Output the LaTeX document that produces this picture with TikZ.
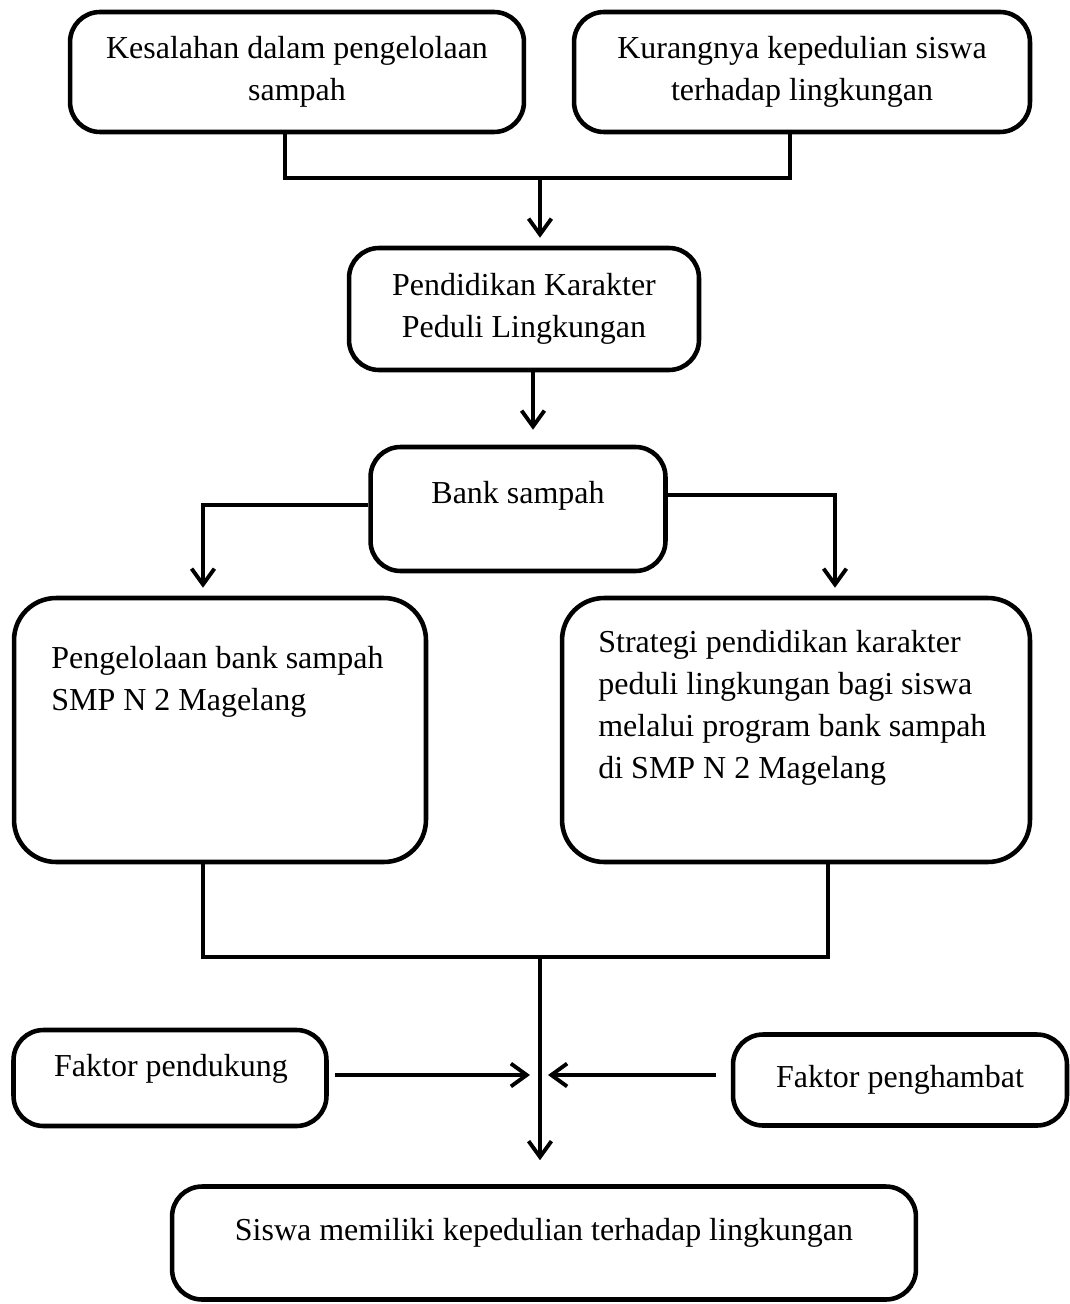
\documentclass[tikz,border=0pt]{standalone}
\usepackage{fontspec}
\setmainfont{Liberation Serif}
\usetikzlibrary{arrows.meta,positioning}
\tikzset{
	kotak/.style={draw, line width=2.6pt, rounded corners=0.6cm, inner sep=0pt, align=center, font=\fontsize{18.2}{23.9}\selectfont},
	kotakbesar/.style={kotak, rounded corners=0.84cm},
	teks/.style={inner sep=0pt, font=\fontsize{18.2}{23.9}\selectfont},
	garis/.style={line width=2.2pt},
	panah/.style={line width=2.2pt, -{Straight Barb[length=9pt,width=13pt,line width=2.2pt]}}
}

\begin{document}
\begin{tikzpicture}[x=0.02cm, y=-0.02cm]
			%%%%% START %%%%%
			\useasboundingbox (0,0) rectangle (1070,1304);
			
			\node[kotak, minimum width=9.08cm, minimum height=2.4cm] (kesalahan) at (297,72) {Kesalahan dalam pengelolaan\\sampah};
			\node[kotak, minimum width=9.12cm, minimum height=2.4cm] (kurang) at (802,72) {Kurangnya kepedulian siswa\\terhadap lingkungan};
			
			\coordinate (t1) at (540,178);
			\draw[garis] ([xshift=-0.24cm]kesalahan.south) |- (t1) -| ([xshift=-0.24cm]kurang.south);
			
			\node[kotak, minimum width=7cm, minimum height=2.44cm] (pendidikan) at (524,309) {Pendidikan Karakter\\Peduli Lingkungan};
			\draw[panah] (t1) -- ([yshift=0.16cm]t1 |- pendidikan.north);
			
			\node[kotak, minimum width=5.9cm, minimum height=2.48cm] (bank) at (518,509) {};
			\node[teks] (tbank) at (518,496) {Bank sampah};
			\draw[panah] ([xshift=0.18cm]pendidikan.south) -- ([xshift=0.18cm,yshift=0.3cm]pendidikan.south |- bank.north);
			
			\node[kotakbesar, minimum width=8.24cm, minimum height=5.28cm] (kelola) at (220,730) {};
			\node[teks, align=left, anchor=west] (tkelola) at (51,682) {Pengelolaan bank sampah\\SMP N 2 Magelang};
			
			\node[kotakbesar, minimum width=9.36cm, minimum height=5.28cm] (strategi) at (796,730) {};
			\node[teks, align=left, anchor=west] (tstrategi) at (598,708) {Strategi pendidikan karakter\\peduli lingkungan bagi siswa\\melalui program bank sampah\\di SMP N 2 Magelang};
			
			\draw[panah] ([yshift=0.08cm]bank.west) -| ([xshift=-0.34cm,yshift=0.16cm]kelola.north);
			\draw[panah] ([yshift=0.28cm]bank.east) -| ([xshift=0.78cm,yshift=0.16cm]strategi.north);
			
			\coordinate (t2) at (540,957);
			\draw[garis] ([xshift=-0.34cm]kelola.south) |- (t2) -| ([xshift=0.64cm]strategi.south);
			
			\node[kotak, minimum width=6.26cm, minimum height=1.92cm] (pendukung) at (170,1078) {};
			\node[teks] (tpendukung) at (171,1069) {Faktor pendukung};
			\node[kotak, minimum width=6.68cm, minimum height=1.82cm] (penghambat) at (900,1080) {Faktor penghambat};
			
			\coordinate (t3) at (540,1075);
			\draw[panah] ([xshift=0.12cm]pendukung.east |- t3) -- ([xshift=-0.2cm]t3);
			\draw[panah] ([xshift=-0.3cm]penghambat.west |- t3) -- ([xshift=0.16cm]t3);
			
			\node[kotak, minimum width=14.88cm, minimum height=2.26cm] (siswa) at (544,1243) {};
			\node[teks] (tsiswa) at (544,1233) {Siswa memiliki kepedulian terhadap lingkungan};
			\draw[panah] (t2) -- ([yshift=0.48cm]t2 |- siswa.north);
			
			%%%%% END %%%%%
\end{tikzpicture}
\end{document}
